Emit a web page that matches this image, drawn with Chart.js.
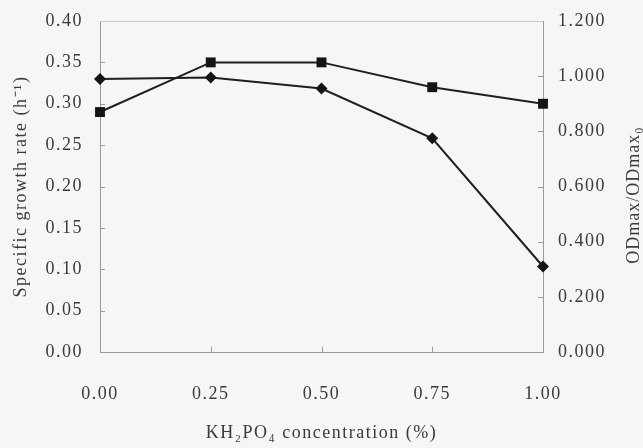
<!DOCTYPE html>
<html>
<head>
<meta charset="utf-8">
<script src="https://cdn.jsdelivr.net/npm/chart.js@4"></script>
<style>
  html, body { margin: 0; padding: 0; background: #f6f6f6; }
  #wrap { width: 643px; height: 448px; }
</style>
</head>
<body>
<div id="wrap"><canvas id="line-chart" width="643" height="448"></canvas></div>
<script>
// KH2PO4 concentration (%)
const concLabels = ['0.00', '0.25', '0.50', '0.75', '1.00'];
// squares, left axis
const growthRate = [0.29, 0.35, 0.35, 0.32, 0.30];
// diamonds, right axis
const odRatio = [0.99, 0.995, 0.955, 0.775, 0.31];

const leftMax = 0.40, leftStep = 0.05;
const rightMax = 1.2, rightStep = 0.2;

const serif = "'Liberation Serif', 'Times New Roman', serif";
const tickFont = { family: serif, size: 18 };
const textColor = '#3a3a3a';
const axisColor = '#9a9a9a';

// small inward tick marks, like the original plot
const innerTicks = {
  id: 'innerTicks',
  beforeDraw(chart) {
    chart.ctx.letterSpacing = '1.5px';
  },
  afterDraw(chart) {
    const ctx = chart.ctx, a = chart.chartArea;
    ctx.save();
    ctx.strokeStyle = axisColor;
    ctx.lineWidth = 1;
    ctx.beginPath();
    const x = chart.scales.x;
    x.ticks.forEach((t, i) => {
      const px = Math.round(x.getPixelForTick(i)) + 0.5;
      ctx.moveTo(px, a.bottom); ctx.lineTo(px, a.bottom - 5);
    });
    const y = chart.scales.y;
    y.ticks.forEach((t, i) => {
      const py = Math.round(y.getPixelForTick(i)) + 0.5;
      ctx.moveTo(a.left, py); ctx.lineTo(a.left + 5, py);
    });
    const y1 = chart.scales.y1;
    y1.ticks.forEach((t, i) => {
      const py = Math.round(y1.getPixelForTick(i)) + 0.5;
      ctx.moveTo(a.right, py); ctx.lineTo(a.right - 5, py);
    });
    ctx.stroke();
    // top border
    ctx.beginPath();
    ctx.moveTo(a.left, a.top + 0.5); ctx.lineTo(a.right, a.top + 0.5);
    ctx.strokeStyle = '#c8c8c8';
    ctx.stroke();

    // right axis title, reading bottom to top
    ctx.letterSpacing = '1px';
    ctx.translate(634, 195);
    ctx.rotate(-Math.PI / 2);
    ctx.fillStyle = textColor;
    ctx.font = "18px " + serif;
    ctx.textAlign = 'center';
    ctx.textBaseline = 'middle';
    ctx.fillText('ODmax/ODmax\u2080', 0, 0);
    ctx.restore();
  }
};

new Chart(document.getElementById("line-chart"), {
  type: 'line',
  data: {
    labels: concLabels,
    datasets: [{
        data: growthRate,
        yAxisID: 'y',
        borderColor: '#1e1e24',
        backgroundColor: '#151515',
        borderWidth: 2,
        pointStyle: 'rect',
        pointRadius: 7,
        pointBorderWidth: 0,
        fill: false
      }, {
        data: odRatio,
        yAxisID: 'y1',
        borderColor: '#1e1e24',
        backgroundColor: '#151515',
        borderWidth: 2,
        pointStyle: 'rectRot',
        pointRadius: 6,
        pointBorderWidth: 0,
        fill: false
      }
    ]
  },
  options: {
    responsive: false,
    animation: false,
    layout: { padding: { top: 21, left: 0, right: 0, bottom: 0 } },
    plugins: {
      legend: { display: false },
      tooltip: { enabled: false }
    },
    scales: {
      x: {
        type: 'category',
        offset: false,
        grid: { drawOnChartArea: false, drawTicks: false },
        border: { color: axisColor },
        ticks: { font: tickFont, color: textColor, padding: 31, maxRotation: 0 },
        title: {
          display: true,
          text: 'KH\u2082PO\u2084 concentration (%)',
          font: tickFont,
          color: textColor,
          padding: { top: 4, bottom: 4 }
        },
        afterFit(s) { s.height = 96; s.paddingLeft = 0; s.paddingRight = 0; }
      },
      y: {
        position: 'left',
        min: 0, max: leftMax,
        grid: { drawOnChartArea: false, drawTicks: false },
        border: { color: axisColor },
        ticks: {
          stepSize: leftStep,
          font: tickFont, color: textColor, padding: 17,
          callback: v => v.toFixed(2)
        },
        title: {
          display: true,
          text: 'Specific growth rate (h\u207B\u00B9)',
          font: tickFont,
          color: textColor,
          padding: { top: 10, bottom: 0 }
        },
        afterFit(s) { s.width = 100; s.paddingTop = 0; s.paddingBottom = 0; }
      },
      y1: {
        position: 'right',
        min: 0, max: rightMax,
        grid: { drawOnChartArea: false, drawTicks: false },
        border: { color: axisColor },
        ticks: {
          stepSize: rightStep,
          font: tickFont, color: textColor, padding: 15,
          callback: v => v.toFixed(3)
        },
        afterFit(s) { s.width = 100; s.paddingTop = 0; s.paddingBottom = 0; }
      }
    }
  },
  plugins: [innerTicks]
});
</script>
</body>
</html>
